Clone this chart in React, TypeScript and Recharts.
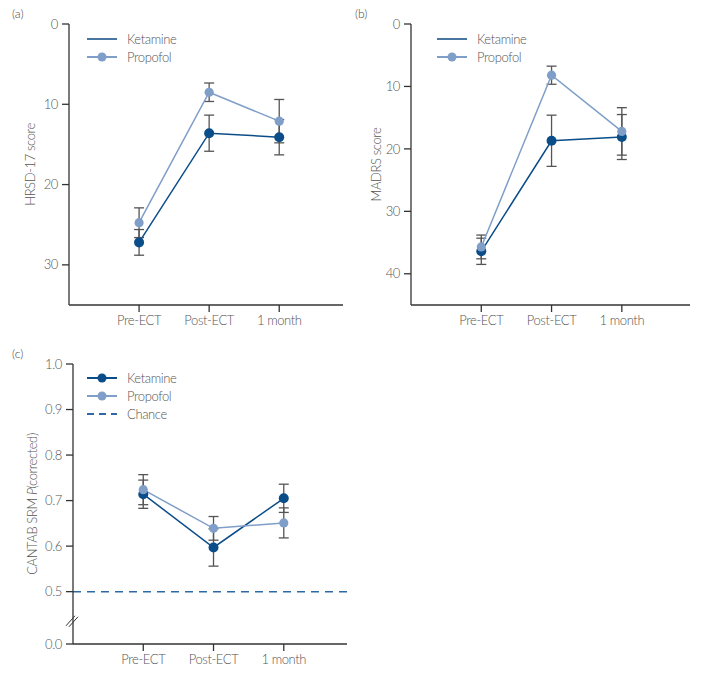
import { ErrorBar, Legend, Line, LineChart, ReferenceDot, ReferenceLine, XAxis, YAxis } from "recharts";

const categories = ["Pre-ECT", "Post-ECT", "1 month"];

// (a) HRSD-17
const hrsdKetamine = [27.2, 13.6, 14.1];
const hrsdKetamineErr = [1.6, 2.25, 2.2];
const hrsdPropofol = [24.75, 8.5, 12.1];
const hrsdPropofolErr = [1.85, 1.15, 2.7];
const hrsdTicks = [0, 10, 20, 30];

// (b) MADRS
const madrsKetamine = [36.4, 18.7, 18.1];
const madrsKetamineErr = [2.1, 4.1, 3.6];
const madrsPropofol = [35.7, 8.2, 17.2];
const madrsPropofolErr = [1.9, 1.45, 3.8];
const madrsTicks = [0, 10, 20, 30, 40];

// (c) CANTAB SRM
const srmKetamine = [0.714, 0.597, 0.705];
const srmKetamineErr = [0.031, 0.041, 0.031];
const srmPropofol = [0.724, 0.639, 0.651];
const srmPropofolErr = [0.033, 0.026, 0.033];
const srmTicks = [0.385, 0.5, 0.6, 0.7, 0.8, 0.9, 1.0];
const chance = 0.5;

const KET = "#0b4d89";
const KET_LEG = "#4876a0";
const PRO = "#7f9ec8";
const CHANCE = "#2d69a5";
const ERR = "#555";
const AXIS = "#333";
const TXT = "#555";
const FONT = "Lato, 'Open Sans', sans-serif";
const FS = 13;
const LS = -0.4;

const toRows = (ket: number[], ketErr: number[], pro: number[], proErr: number[]) =>
  categories.map((c, i) => ({ x: i + 1, cat: c, ket: ket[i], ketErr: ketErr[i], pro: pro[i], proErr: proErr[i] }));

const hrsdData = toRows(hrsdKetamine, hrsdKetamineErr, hrsdPropofol, hrsdPropofolErr);
const madrsData = toRows(madrsKetamine, madrsKetamineErr, madrsPropofol, madrsPropofolErr);
const srmData = toRows(srmKetamine, srmKetamineErr, srmPropofol, srmPropofolErr);

type LegendItem = { label: string; color: string; dot?: boolean; dashed?: boolean };

function LegendBox({ items }: { items: LegendItem[] }) {
  return (
    <svg width={110} height={items.length * 18} style={{ display: "block", fontFamily: FONT }}>
      {items.map((it, i) => {
        const y = 9 + i * 18;
        return (
          <g key={it.label}>
            <line
              x1={0}
              x2={30}
              y1={y}
              y2={y}
              stroke={it.color}
              strokeWidth={2}
              strokeDasharray={it.dashed ? "7 5" : undefined}
            />
            {it.dot && <circle cx={15} cy={y} r={4.5} fill={it.color} />}
            <text x={40} y={y + 4.5} fontSize={FS} fontWeight={300} letterSpacing={LS} fill={TXT}>
              {it.label}
            </text>
          </g>
        );
      })}
    </svg>
  );
}

function YTitle({ x, y, children }: { x: number; y: number; children: React.ReactNode }) {
  return (
    <text
      x={x}
      y={y}
      transform={`rotate(-90 ${x} ${y})`}
      textAnchor="middle"
      fontSize={FS}
      fontWeight={300}
      letterSpacing={LS}
      fill={TXT}
      fontFamily={FONT}
    >
      {children}
    </text>
  );
}

function AxisBreak(props: { cx?: number; cy?: number }) {
  const { cx = 0, cy = 0 } = props;
  return (
    <g stroke={AXIS} strokeWidth={1}>
      <line x1={cx - 7} y1={cy + 5} x2={cx + 2} y2={cy - 5} />
      <line x1={cx - 4} y1={cy + 6} x2={cx + 5} y2={cy - 4} />
    </g>
  );
}

type PanelProps = {
  data: ReturnType<typeof toRows>;
  width: number;
  height: number;
  margin: { top: number; right: number; bottom: number; left: number };
  yWidth: number;
  xMax: number;
  yDomain: [number, number];
  yTicks: number[];
  reversed?: boolean;
  yTickFormat?: (v: number) => string;
  title: React.ReactNode;
  titlePos: [number, number];
  legend: LegendItem[];
  legendTop: number;
  showChance?: boolean;
};

function Panel(p: PanelProps) {
  const tick = { fill: TXT, fontSize: FS, fontFamily: FONT, fontWeight: 300, letterSpacing: LS };
  return (
    <LineChart width={p.width} height={p.height} data={p.data} margin={p.margin}>
      <XAxis
        dataKey="x"
        type="number"
        domain={[0, p.xMax]}
        ticks={[1, 2, 3]}
        tickFormatter={(v: number) => categories[v - 1] ?? ""}
        height={30}
        tick={tick}
        tickSize={7}
        tickMargin={4}
        axisLine={{ stroke: AXIS, strokeWidth: 1.3 }}
        tickLine={{ stroke: AXIS, strokeWidth: 1.3 }}
      />
      <YAxis
        type="number"
        domain={p.yDomain}
        ticks={p.yTicks}
        reversed={p.reversed}
        allowDataOverflow
        width={p.yWidth}
        tick={tick}
        tickSize={7}
        tickMargin={4}
        tickFormatter={p.yTickFormat}
        axisLine={{ stroke: AXIS, strokeWidth: 1.3 }}
        tickLine={{ stroke: AXIS, strokeWidth: 1.3 }}
        label={<YTitle x={p.titlePos[0]} y={p.titlePos[1]}>{p.title}</YTitle>}
      />
      <Legend
        layout="vertical"
        align="center"
        verticalAlign="middle"
        wrapperStyle={{ left: 87, top: p.legendTop, width: 110 }}
        content={() => <LegendBox items={p.legend} />}
      />
      {p.showChance && (
        <ReferenceLine y={chance} stroke={CHANCE} strokeWidth={1.5} strokeDasharray="8 6" />
      )}
      {p.showChance && <ReferenceDot x={0} y={0.436} shape={AxisBreak} ifOverflow="visible" />}
      <Line
        dataKey="ket"
        stroke={KET}
        strokeWidth={1.5}
        dot={{ r: 5, fill: KET, stroke: KET, strokeWidth: 0 }}
        isAnimationActive={false}
        legendType="none"
      >
        <ErrorBar dataKey="ketErr" width={5} stroke={ERR} strokeWidth={1.3} direction="y" />
      </Line>
      <Line
        dataKey="pro"
        stroke={PRO}
        strokeWidth={1.5}
        dot={{ r: 4.6, fill: PRO, stroke: PRO, strokeWidth: 0 }}
        isAnimationActive={false}
        legendType="none"
      >
        <ErrorBar dataKey="proErr" width={5} stroke={ERR} strokeWidth={1.3} direction="y" />
      </Line>
    </LineChart>
  );
}

const tag = (t: string, left: number, top: number) => (
  <div style={{ position: "absolute", left, top, fontSize: 12, fontWeight: 300, color: "#444", fontFamily: FONT }}>
    {t}
  </div>
);

export default function App() {
  const legendAB: LegendItem[] = [
    { label: "Ketamine", color: KET_LEG },
    { label: "Propofol", color: PRO, dot: true },
  ];
  const legendC: LegendItem[] = [
    { label: "Ketamine", color: KET, dot: true },
    { label: "Propofol", color: PRO, dot: true },
    { label: "Chance", color: CHANCE, dashed: true },
  ];
  return (
    <div style={{ position: "absolute", left: 0, top: 0, width: 701, height: 674, background: "#fff" }}>
      <div style={{ position: "absolute", left: 0, top: 0 }}>
        <Panel
          data={hrsdData}
          width={350}
          height={340}
          margin={{ top: 24, right: 7, bottom: 5, left: 0 }}
          yWidth={69}
          xMax={3.91}
          yDomain={[0, 35]}
          yTicks={hrsdTicks}
          reversed
          title="HRSD-17 score"
          titlePos={[31, 151]}
          legend={legendAB}
          legendTop={30}
        />
      </div>
      <div style={{ position: "absolute", left: 350, top: 0 }}>
        <Panel
          data={madrsData}
          width={351}
          height={340}
          margin={{ top: 24, right: 11, bottom: 5, left: 0 }}
          yWidth={61}
          xMax={3.97}
          yDomain={[0, 45]}
          yTicks={madrsTicks}
          reversed
          title="MADRS score"
          titlePos={[23, 150]}
          legend={legendAB}
          legendTop={30}
        />
      </div>
      <div style={{ position: "absolute", left: 0, top: 340 }}>
        <Panel
          data={srmData}
          width={350}
          height={334}
          margin={{ top: 24, right: 3, bottom: 0, left: 0 }}
          yWidth={73}
          xMax={3.9}
          yDomain={[0.385, 1.0]}
          yTicks={srmTicks}
          yTickFormat={(v: number) => (v < 0.45 ? "0.0" : v.toFixed(1))}
          title={
            <>
              CANTAB SRM <tspan fontStyle="italic">P</tspan>(corrected)
            </>
          }
          titlePos={[30, 160]}
          legend={legendC}
          legendTop={29}
          showChance
        />
      </div>
      {tag("(a)", 12, 6)}
      {tag("(b)", 355, 6)}
      {tag("(c)", 12, 346)}
    </div>
  );
}
